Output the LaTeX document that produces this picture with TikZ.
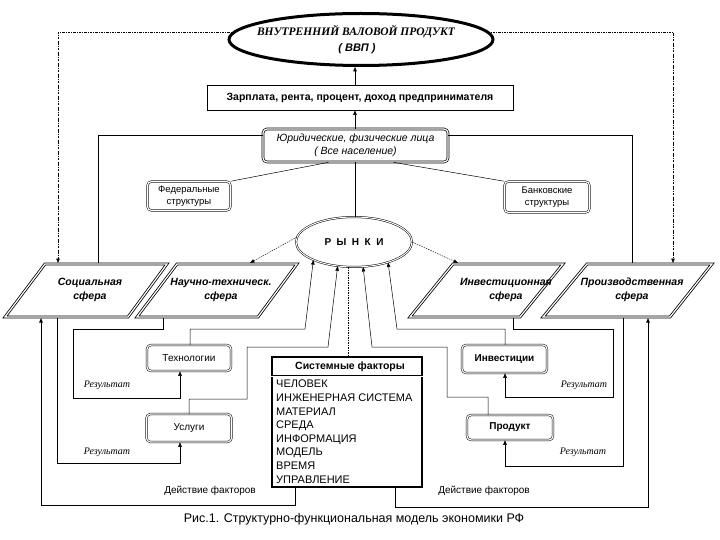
\documentclass[tikz,border=0pt]{standalone}
\usepackage{fontspec}
\setmainfont{Liberation Serif}
\setsansfont{Liberation Sans}
\usetikzlibrary{shapes.geometric,arrows.meta}
\begin{document}
\begin{tikzpicture}[x=1pt,y=-1pt,
  every node/.style={font=\sffamily, inner sep=0pt},
  rbox/.style={draw, double, double distance=1.2pt, line width=0.5pt, rounded corners=4pt, align=center, font=\sffamily\fontsize{10}{12}\selectfont},
  para/.style={draw, line width=0.8pt, double, double distance=1.2pt, line join=miter},
  ptext/.style={font=\sffamily\bfseries\itshape\fontsize{10.5}{14}\selectfont, align=center},
  conn/.style={line width=0.5pt},
  thickc/.style={line width=0.9pt},
  arr/.style={-{Triangle[length=4.5pt,width=3.5pt]}},
  dotl/.style={dash pattern=on 1.5pt off 1pt, line width=0.4pt},
  dashl/.style={dash pattern=on 2.5pt off 1.2pt on 0.6pt off 1.2pt, line width=0.5pt},
  res/.style={font=\rmfamily\itshape\fontsize{10}{11}\selectfont},
  act/.style={font=\sffamily\fontsize{10}{12}\selectfont},
]
\useasboundingbox (0,0) rectangle (720,540);

% ---------- top ----------
\node[ellipse, draw, line width=3pt, minimum width=264pt, minimum height=52pt] (gdp) at (361,39.5) {};
\node[font=\rmfamily\bfseries\itshape\fontsize{11.5}{14}\selectfont] (gdpt) at (356,32) {ВНУТРЕННИЙ ВАЛОВОЙ ПРОДУКТ};
\node[font=\sffamily\bfseries\itshape\fontsize{11}{13}\selectfont] (gdps) at (357,49) {( ВВП )};

\node[draw, line width=0.6pt, minimum width=306pt, minimum height=25pt,
      font=\sffamily\bfseries\fontsize{10.5}{12}\selectfont] (zp) at (360,97.5)
      {Зарплата, рента, процент, доход предпринимателя};

\node[rbox, line width=0.7pt, minimum width=185pt, minimum height=33pt,
      font=\sffamily\itshape\fontsize{10.5}{13}\selectfont] (yur) at (355.5,145.5)
      {Юридические, физические лица\\( Все население)};

\node[rbox, minimum width=83pt, minimum height=29pt, font=\sffamily\fontsize{9.5}{11.5}\selectfont] (fed) at (189,196) {Федеральные\\структуры};
\node[rbox, minimum width=85pt, minimum height=31pt, font=\sffamily\fontsize{9.5}{11.5}\selectfont] (bank) at (547,197) {Банковские\\структуры};

\node[ellipse, draw, double, double distance=1pt, line width=0.5pt, minimum width=116pt, minimum height=50pt,
      font=\sffamily\bfseries\fontsize{10}{12}\selectfont] (ry) at (354,242)
      {Р\hspace{0.55em}Ы\hspace{0.55em}Н\hspace{0.55em}К\hspace{0.55em}И};

% ---------- spheres ----------
\draw[para] (45,264) -- (167,264) -- (128,317) -- (5,317) -- cycle;
\draw[para] (177,264) -- (297,264) -- (258,317) -- (137,317) -- cycle;
\draw[para] (453,264) -- (563,264) -- (520,317) -- (410,317) -- cycle;
\draw[para] (587,264) -- (712,264) -- (670,317) -- (543,317) -- cycle;
\node[ptext] (soc) at (90,289.5) {Социальная\\сфера};
\node[ptext] (sci) at (221,289.5) {Научно-техническ.\\сфера};
\node[ptext] (invs) at (506,289.5) {Инвестиционная\\сфера};
\node[ptext] (prods) at (632,289.5) {Производственная\\сфера};

\coordinate (socIn) at (58,263);
\coordinate (socTop) at (98,263);
\coordinate (sciIn) at (250,263);
\coordinate (invIn) at (458,263);
\coordinate (prodTop) at (632,263);
\coordinate (prodIn) at (673,263);
\coordinate (socB1) at (41,318);
\coordinate (socB2) at (57,318);
\coordinate (sciB) at (163,318);
\coordinate (invB) at (513,318);
\coordinate (prodB1) at (623,318);
\coordinate (prodB2) at (648,318);

% ---------- lower boxes ----------
\node[rbox] (tech) at (189,358) [minimum width=84pt, minimum height=26pt] {Технологии};
\node[rbox] (usl) at (189,428) [minimum width=85pt, minimum height=28pt] {Услуги};
\node[rbox, font=\sffamily\bfseries\fontsize{10}{12}\selectfont] (inv) at (504.5,359) [minimum width=85pt, minimum height=28pt] {Инвестиции};
\node[rbox, font=\sffamily\bfseries\fontsize{10}{12}\selectfont] (prod) at (510,427.5) [minimum width=86pt, minimum height=25pt] {Продукт};

\node[draw, line width=1.8pt, minimum width=150pt, minimum height=130pt] (sys) at (347,422) {};
\draw[line width=0.6pt, double, double distance=1pt] (sys.west |- 0,376) -- (sys.east |- 0,376);
\node[font=\sffamily\bfseries\fontsize{10.5}{12}\selectfont] (syst) at (350,367) {Системные факторы};
\node[anchor=north west, align=left, font=\sffamily\fontsize{11}{13.6}\selectfont] (sysl) at (276,380)
 {ЧЕЛОВЕК\\ИНЖЕНЕРНАЯ СИСТЕМА\\МАТЕРИАЛ\\СРЕДА\\ИНФОРМАЦИЯ\\МОДЕЛЬ\\ВРЕМЯ\\УПРАВЛЕНИЕ};

% ---------- connectors top ----------
\coordinate (ax) at (355,0);
\draw[conn, arr] (zp.north -| ax) -- (gdp.south -| ax);
\draw[conn, arr] (yur.north -| ax) -- (zp.south -| ax);
\draw[conn] (yur.south -| ax) -- (ry.north -| ax);
\draw[conn] ([xshift=-27]yur.south) -- (fed.north east);
\draw[conn] ([xshift=38]yur.south) -- (bank.north west);
\draw[conn] (yur.west |- 0,135) -| (socTop);
\draw[line width=0.4pt] (yur.east |- 0,135) -| (prodTop);
\draw[dashl, arr] ([shift={(-126,-7)}]gdp.center) -| (socIn);
\draw[dashl, arr] ([shift={(126,-7)}]gdp.center) -| (prodIn);
\draw[dotl, arr] (ry.175) -- (sciIn);
\draw[dotl, arr] (ry.east) -- (invIn);
\draw[dotl] (ry.south -| 348,0) -- (sys.north -| 348,0);

% ---------- connectors left ----------
\draw[thickc, arr] ([xshift=-52]sys.south) -- ++(0,18) -| (socB1);
\draw[conn, arr] (socB2) |- (180,463) -- (usl.south -| 180,0);
\draw[conn, arr] (sciB) |- (73,329) |- (180,398) -- (tech.south -| 180,0);
\draw[conn, arr] (tech.north -| 190,0) |- (305,329) -- (ry.204);
\draw[conn, arr] (usl.north -| 189,0) |- (247,399) |- (328,347) -- (ry.236);

% ---------- connectors right ----------
\draw[conn, arr] (inv.north -| 505,0) |- (397,329) -- (ry.-31);
\draw[conn, arr] (invB) |- (613,329) |- (505,397) -- (inv.south -| 505,0);
\draw[conn, arr] (prod.north -| 488,0) |- (447,397) |- (372,347) -- (ry.290);
\draw[line width=0.4pt, arr] (prodB1) |- (505,466) -- (prod.south -| 505,0);
\draw[thickc, arr] ([xshift=48]sys.south) -- ++(0,20) -| (prodB2);

% ---------- labels ----------
\node[res] (r1) at (107,385) {Результат};
\node[res] (r2) at (107,452) {Результат};
\node[res] (r3) at (584,385) {Результат};
\node[res] (r4) at (583,452) {Результат};
\node[act] (a1) at (210,491) {Действие факторов};
\node[act] (a2) at (484,491) {Действие факторов};
\node[font=\sffamily\fontsize{12.5}{14}\selectfont] (cap) at (354,519) {Рис.1. Структурно-функциональная модель экономики РФ};
\end{tikzpicture}
\end{document}
